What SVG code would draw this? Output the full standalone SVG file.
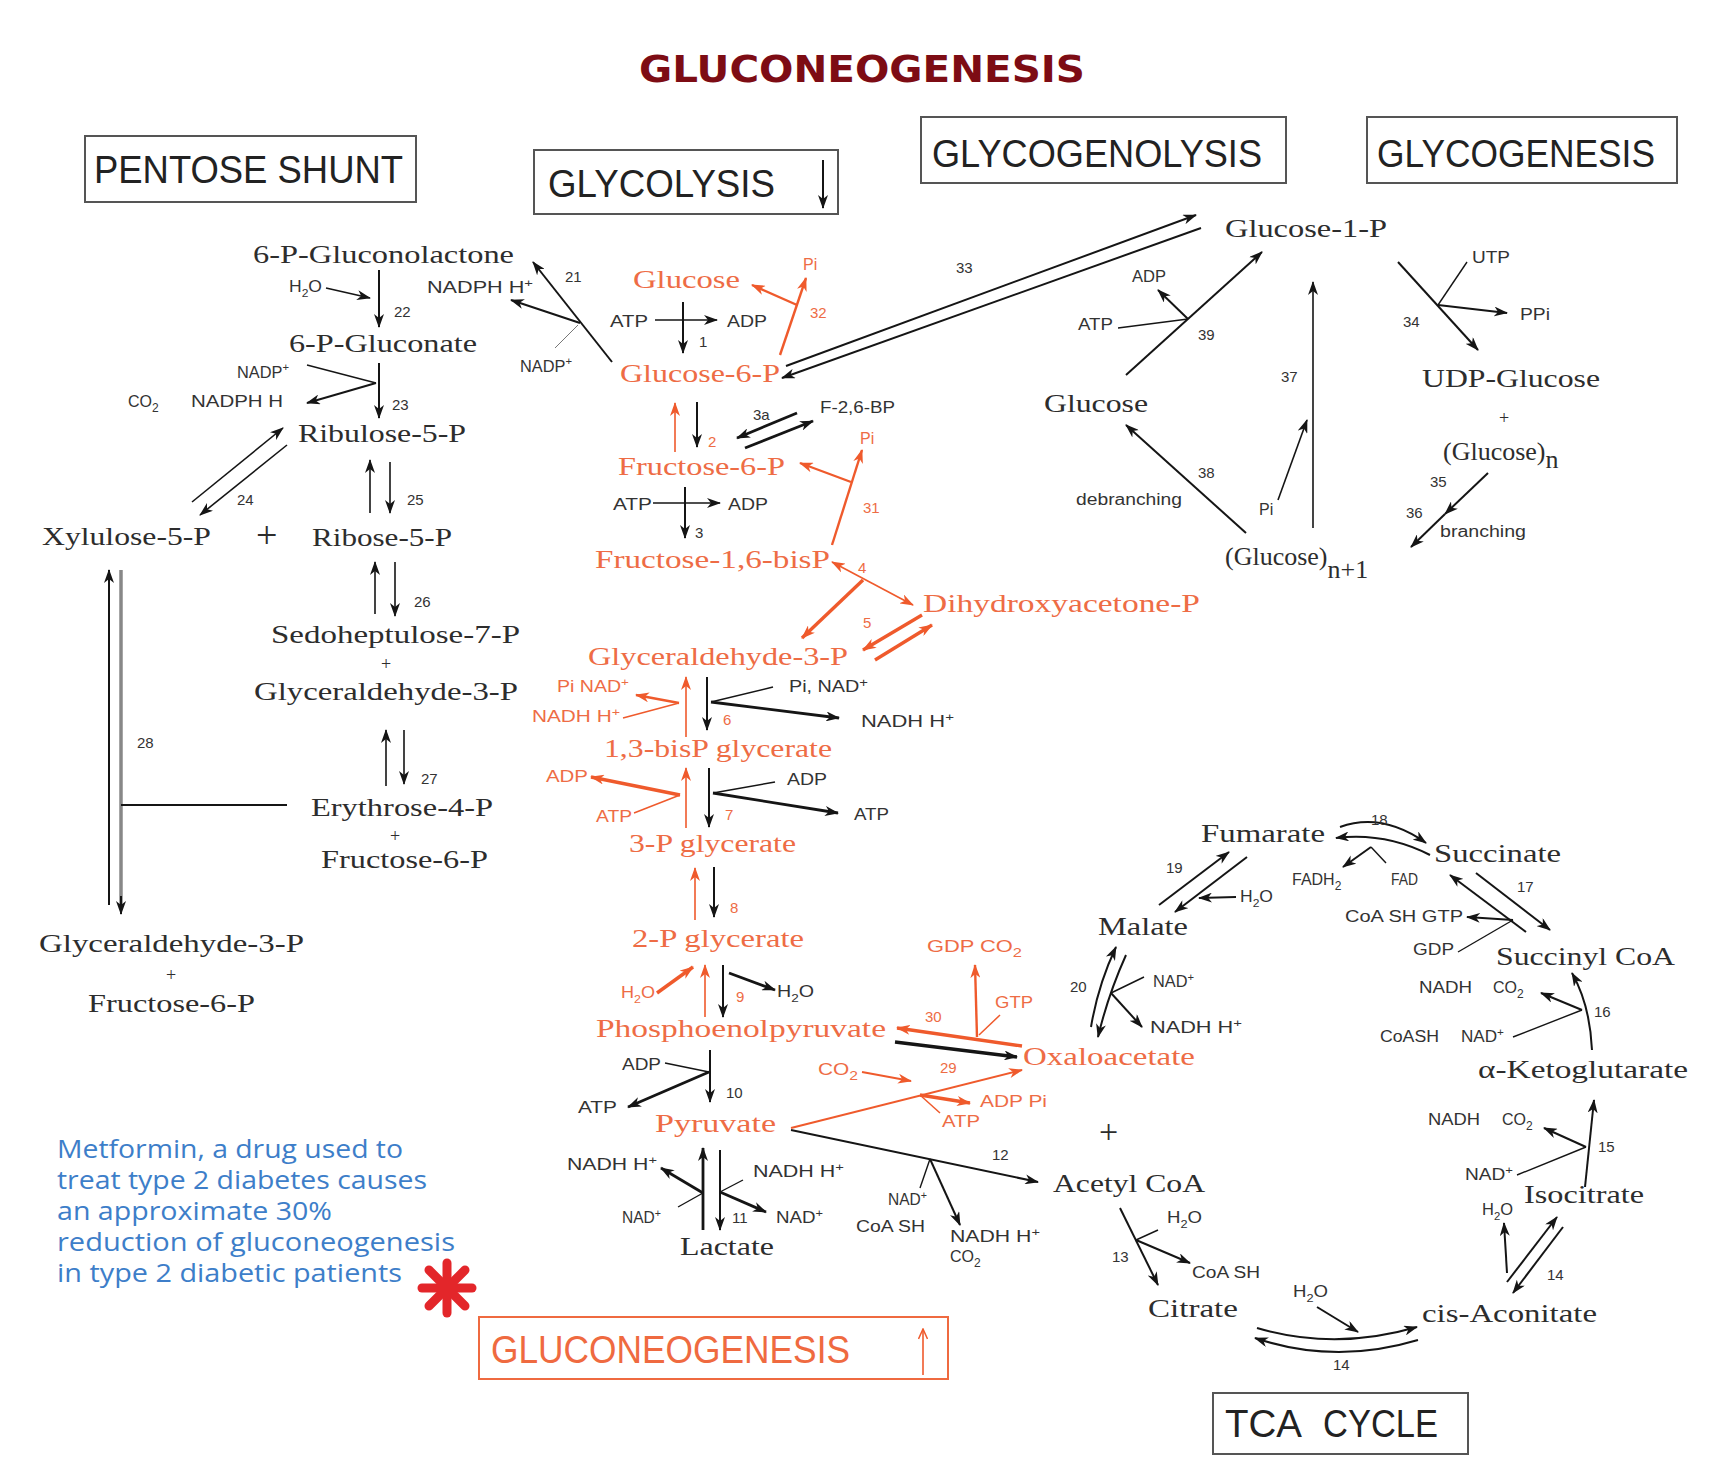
<svg xmlns="http://www.w3.org/2000/svg" width="1735" height="1471" viewBox="0 0 1735 1471">
<style>
.m{font-family:"Liberation Serif","Times New Roman",serif;font-size:26px;fill:#2d2d2d}
.mo{font-family:"Liberation Serif","Times New Roman",serif;font-size:26px;fill:#ee6c45}
.s{font-family:"Liberation Sans",Arial,sans-serif;font-size:16px;fill:#333}
.so{font-family:"Liberation Sans",Arial,sans-serif;font-size:16px;fill:#ee6c45}
.n{font-family:"Liberation Sans",Arial,sans-serif;font-size:15px;fill:#333}
.no{font-family:"Liberation Sans",Arial,sans-serif;font-size:15px;fill:#ee6c45}
.bt{font-family:"Liberation Sans",Arial,sans-serif;font-size:38px;fill:#222}
.box{fill:#fff;stroke:#555;stroke-width:2}
.k{fill:none;stroke:#151515;stroke-width:2;marker-end:url(#ak)}
.kk{fill:none;stroke:#151515;stroke-width:2.8;marker-end:url(#ak)}
.kl{fill:none;stroke:#151515;stroke-width:1.4}
.o{fill:none;stroke:#ef5a2c;stroke-width:2.4;marker-end:url(#ao)}
.oo{fill:none;stroke:#ef5a2c;stroke-width:3.4;marker-end:url(#ao)}
.ol{fill:none;stroke:#ef5a2c;stroke-width:1.5}
.ot{fill:none;stroke:#ef5a2c;stroke-width:1.6;marker-end:url(#ao)}
.blue{font-family:"Open Sans","Liberation Sans",sans-serif;font-size:25px;fill:#3d7ec9}
.plus{font-family:"Liberation Serif","Times New Roman",serif;font-size:18px;fill:#2d2d2d}
</style>
<defs>
<marker id="ak" viewBox="0 0 14 10" markerWidth="14" markerHeight="10" refX="13" refY="5" orient="auto-start-reverse" markerUnits="userSpaceOnUse"><path d="M0,0 L14,5 L0,10 L4,5 z" fill="#151515"/></marker>
<marker id="ao" viewBox="0 0 14 10" markerWidth="14" markerHeight="10" refX="13" refY="5" orient="auto-start-reverse" markerUnits="userSpaceOnUse"><path d="M0,0 L14,5 L0,10 L4,5 z" fill="#ef5a2c"/></marker>
<marker id="aov" viewBox="0 0 12 10" markerWidth="12" markerHeight="10" refX="11" refY="5" orient="auto" markerUnits="userSpaceOnUse"><path d="M1,0.5 L11,5 L1,9.5" fill="none" stroke="#ef5a2c" stroke-width="1.5"/></marker>
</defs>
<rect width="1735" height="1471" fill="#fff"/>

<text x="639" y="82" textLength="446" lengthAdjust="spacingAndGlyphs" style="font-family:'DejaVu Sans',Verdana,sans-serif;font-size:37px;font-weight:bold;fill:#7d0c14">GLUCONEOGENESIS</text>

<g id="box-pentose"><rect class="box" x="85" y="136" width="331" height="66"/><text class="bt" x="94" y="183" textLength="309" lengthAdjust="spacingAndGlyphs">PENTOSE SHUNT</text></g>
<g id="box-glycolysis"><rect class="box" x="534" y="150" width="304" height="64"/><text class="bt" x="548" y="197" textLength="227" lengthAdjust="spacingAndGlyphs">GLYCOLYSIS</text><path class="k" d="M823,160 L823,208"/></g>
<g id="box-glycogenolysis"><rect class="box" x="921" y="117" width="365" height="66"/><text class="bt" x="932" y="167" textLength="330" lengthAdjust="spacingAndGlyphs">GLYCOGENOLYSIS</text></g>
<g id="box-glycogenesis"><rect class="box" x="1367" y="117" width="310" height="66"/><text class="bt" x="1377" y="167" textLength="278" lengthAdjust="spacingAndGlyphs">GLYCOGENESIS</text></g>
<g id="box-tca"><rect class="box" x="1213" y="1393" width="255" height="61"/><text class="bt" x="1225" y="1437" textLength="77" lengthAdjust="spacingAndGlyphs">TCA</text><text class="bt" x="1323" y="1437" textLength="115" lengthAdjust="spacingAndGlyphs">CYCLE</text></g>
<g id="box-gluconeogenesis"><rect x="479" y="1317" width="469" height="62" fill="#fff" stroke="#ef6a40" stroke-width="2"/><text class="bt" x="491" y="1363" textLength="359" lengthAdjust="spacingAndGlyphs" style="fill:#ef6a40">GLUCONEOGENESIS</text><path d="M923,1375 L923,1329" fill="none" stroke="#ef5a2c" stroke-width="1.6" marker-end="url(#aov)"/></g>

<g id="note-metformin">
<text class="blue" x="57" y="1158" textLength="346" lengthAdjust="spacingAndGlyphs">Metformin, a drug used to</text>
<text class="blue" x="57" y="1189" textLength="370" lengthAdjust="spacingAndGlyphs">treat type 2 diabetes causes</text>
<text class="blue" x="57" y="1220" textLength="275" lengthAdjust="spacingAndGlyphs">an approximate 30%</text>
<text class="blue" x="57" y="1251" textLength="398" lengthAdjust="spacingAndGlyphs">reduction of gluconeogenesis</text>
<text class="blue" x="57" y="1282" textLength="345" lengthAdjust="spacingAndGlyphs">in type 2 diabetic patients</text>
<g stroke="#e3262a" stroke-width="9" stroke-linecap="round"><line x1="422" y1="1288" x2="472" y2="1288"/><line x1="447" y1="1263" x2="447" y2="1313"/><line x1="429" y1="1270" x2="465" y2="1306"/><line x1="465" y1="1270" x2="429" y2="1306"/></g>
</g>

<!-- pentose metabolites -->
<g id="n-6pgl"><text class="m" x="253" y="263" textLength="261" lengthAdjust="spacingAndGlyphs">6-P-Gluconolactone</text></g>
<g id="n-6pg"><text class="m" x="289" y="352" textLength="188" lengthAdjust="spacingAndGlyphs">6-P-Gluconate</text></g>
<g id="n-ru5p"><text class="m" x="298" y="442" textLength="168" lengthAdjust="spacingAndGlyphs">Ribulose-5-P</text></g>
<g id="n-xu5p"><text class="m" x="42" y="545" textLength="169" lengthAdjust="spacingAndGlyphs">Xylulose-5-P</text><text class="m" x="256" y="548" style="font-size:38px">+</text></g>
<g id="n-r5p"><text class="m" x="312" y="546" textLength="140" lengthAdjust="spacingAndGlyphs">Ribose-5-P</text></g>
<g id="n-s7p"><text class="m" x="271" y="643" textLength="249" lengthAdjust="spacingAndGlyphs">Sedoheptulose-7-P</text><text class="plus" x="381" y="670">+</text><text class="m" x="254" y="700" textLength="264" lengthAdjust="spacingAndGlyphs">Glyceraldehyde-3-P</text></g>
<g id="n-e4p"><text class="m" x="311" y="816" textLength="182" lengthAdjust="spacingAndGlyphs">Erythrose-4-P</text><text class="plus" x="390" y="842">+</text><text class="m" x="321" y="868" textLength="167" lengthAdjust="spacingAndGlyphs">Fructose-6-P</text></g>
<g id="n-g3p-f6p"><text class="m" x="39" y="952" textLength="265" lengthAdjust="spacingAndGlyphs">Glyceraldehyde-3-P</text><text class="plus" x="166" y="981">+</text><text class="m" x="88" y="1012" textLength="167" lengthAdjust="spacingAndGlyphs">Fructose-6-P</text></g>

<!-- glycolysis / gluconeogenesis metabolites -->
<g id="n-glucose"><text class="mo" x="633" y="288" textLength="107" lengthAdjust="spacingAndGlyphs">Glucose</text></g>
<g id="n-g6p"><text class="mo" x="620" y="382" textLength="160" lengthAdjust="spacingAndGlyphs">Glucose-6-P</text></g>
<g id="n-f6p"><text class="mo" x="618" y="475" textLength="167" lengthAdjust="spacingAndGlyphs">Fructose-6-P</text></g>
<g id="n-f16bp"><text class="mo" x="595" y="568" textLength="235" lengthAdjust="spacingAndGlyphs">Fructose-1,6-bisP</text></g>
<g id="n-dhap"><text class="mo" x="923" y="612" textLength="277" lengthAdjust="spacingAndGlyphs">Dihydroxyacetone-P</text></g>
<g id="n-gap"><text class="mo" x="588" y="665" textLength="260" lengthAdjust="spacingAndGlyphs">Glyceraldehyde-3-P</text></g>
<g id="n-13bpg"><text class="mo" x="604" y="757" textLength="228" lengthAdjust="spacingAndGlyphs">1,3-bisP glycerate</text></g>
<g id="n-3pg"><text class="mo" x="629" y="852" textLength="167" lengthAdjust="spacingAndGlyphs">3-P glycerate</text></g>
<g id="n-2pg"><text class="mo" x="632" y="947" textLength="172" lengthAdjust="spacingAndGlyphs">2-P glycerate</text></g>
<g id="n-pep"><text class="mo" x="596" y="1037" textLength="290" lengthAdjust="spacingAndGlyphs">Phosphoenolpyruvate</text></g>
<g id="n-oaa"><text class="mo" x="1023" y="1065" textLength="172" lengthAdjust="spacingAndGlyphs">Oxaloacetate</text></g>
<g id="n-pyr"><text class="mo" x="655" y="1132" textLength="121" lengthAdjust="spacingAndGlyphs">Pyruvate</text></g>
<g id="n-lactate"><text class="m" x="680" y="1255" textLength="94" lengthAdjust="spacingAndGlyphs">Lactate</text></g>

<!-- TCA metabolites -->
<g id="n-plus-tca"><text class="m" x="1099" y="1143" style="font-size:34px">+</text></g>
<g id="n-acetylcoa"><text class="m" x="1053" y="1192" textLength="152" lengthAdjust="spacingAndGlyphs">Acetyl CoA</text></g>
<g id="n-citrate"><text class="m" x="1148" y="1317" textLength="90" lengthAdjust="spacingAndGlyphs">Citrate</text></g>
<g id="n-cisaco"><text class="m" x="1422" y="1322" textLength="175" lengthAdjust="spacingAndGlyphs">cis-Aconitate</text></g>
<g id="n-isocitrate"><text class="m" x="1524" y="1203" textLength="120" lengthAdjust="spacingAndGlyphs">Isocitrate</text></g>
<g id="n-akg"><text class="m" x="1478" y="1078" textLength="210" lengthAdjust="spacingAndGlyphs">α-Ketoglutarate</text></g>
<g id="n-succoa"><text class="m" x="1496" y="965" textLength="179" lengthAdjust="spacingAndGlyphs">Succinyl CoA</text></g>
<g id="n-succinate"><text class="m" x="1434" y="862" textLength="127" lengthAdjust="spacingAndGlyphs">Succinate</text></g>
<g id="n-fumarate"><text class="m" x="1201" y="842" textLength="124" lengthAdjust="spacingAndGlyphs">Fumarate</text></g>
<g id="n-malate"><text class="m" x="1098" y="935" textLength="90" lengthAdjust="spacingAndGlyphs">Malate</text></g>

<!-- glycogen metabolites -->
<g id="n-g1p"><text class="m" x="1225" y="237" textLength="162" lengthAdjust="spacingAndGlyphs">Glucose-1-P</text></g>
<g id="n-glucose2"><text class="m" x="1044" y="412" textLength="104" lengthAdjust="spacingAndGlyphs">Glucose</text></g>
<g id="n-udpg"><text class="m" x="1422" y="387" textLength="178" lengthAdjust="spacingAndGlyphs">UDP-Glucose</text><text class="plus" x="1499" y="424">+</text><text class="m" x="1443" y="460">(Glucose)<tspan dy="8">n</tspan></text></g>
<g id="n-glycogen"><text class="m" x="1225" y="565">(Glucose)<tspan dy="13">n+1</tspan></text></g>

<g id="connectors">
<!-- pentose -->
<path class="k" d="M379,270 L379,327"/>
<path class="k" d="M326,288 L370,298" style="stroke-width:1.6"/>
<path class="k" d="M379,363 L379,418"/>
<path class="kl" d="M307,365 L376,383"/>
<path class="k" d="M376,383 L307,403"/>
<path class="k" d="M192,502 L283,428" style="stroke-width:1.6"/>
<path class="k" d="M287,445 L200,515" style="stroke-width:1.6"/>
<path class="k" d="M370,513 L370,460" style="stroke-width:1.6"/>
<path class="k" d="M390,462 L390,513" style="stroke-width:1.6"/>
<path class="k" d="M375,614 L375,562" style="stroke-width:1.6"/>
<path class="k" d="M395,562 L395,616" style="stroke-width:1.6"/>
<path class="k" d="M386,786 L386,730" style="stroke-width:1.6"/>
<path class="k" d="M404,730 L404,784" style="stroke-width:1.6"/>
<path class="k" d="M109,905 L109,570"/>
<path d="M121,570 L121,906" fill="none" stroke="#888" stroke-width="3.5"/>
<path class="k" d="M121,896 L121,914"/>
<path class="kl" d="M121,805 L287,805" style="stroke-width:2"/>
<path class="k" d="M612,362 L533,262"/>
<path class="k" d="M580,323 L511,300"/>
<path class="kl" d="M555,348 L578,325" style="stroke:#777;stroke-width:1"/>
<!-- glycolysis -->
<path class="k" d="M683,302 L683,353"/>
<path class="k" d="M655,320 L717,320" style="stroke-width:1.6"/>
<path class="o" d="M780,355 L806,278"/>
<path class="o" d="M797,305 L752,285"/>
<path class="k" d="M786,366 L1196,215"/>
<path class="k" d="M1201,228 L782,378"/>
<path class="k" d="M697,402 L697,447"/>
<path class="ot" d="M675,452 L675,403"/>
<path class="kk" d="M797,413 L737,438"/>
<path class="kk" d="M745,448 L813,421"/>
<path class="k" d="M685,487 L685,538"/>
<path class="k" d="M653,503 L720,503" style="stroke-width:1.6"/>
<path class="o" d="M832,545 L862,450"/>
<path class="o" d="M851,482 L800,463"/>
<path class="ot" d="M832,562 L913,605" marker-start="url(#ao)"/>
<path class="oo" d="M863,580 L802,638"/>
<path class="oo" d="M922,615 L863,650"/>
<path class="oo" d="M875,660 L932,625"/>
<path class="k" d="M707,677 L707,730"/>
<path class="kl" d="M773,687 L711,702"/>
<path class="kk" d="M711,702 L839,718"/>
<path class="ot" d="M686,737 L686,677"/>
<path class="o" d="M679,703 L636,695"/>
<path class="ol" d="M623,718 L679,703"/>
<path class="k" d="M709,768 L709,827"/>
<path class="kl" d="M775,782 L713,793"/>
<path class="kk" d="M713,793 L838,813"/>
<path class="ot" d="M686,828 L686,768"/>
<path class="oo" d="M680,795 L591,777"/>
<path class="ol" d="M634,813 L680,795"/>
<path class="k" d="M714,867 L714,917"/>
<path class="ot" d="M695,920 L695,868"/>
<path class="k" d="M723,965 L723,1017"/>
<path class="kk" d="M729,973 L775,990"/>
<path class="ot" d="M705,1017 L705,965"/>
<path class="oo" d="M657,993 L693,967"/>
<path class="oo" d="M1022,1046 L897,1028"/>
<path class="o" d="M977,1037 L975,965"/>
<path class="ol" d="M1000,1015 L979,1035"/>
<path class="kk" d="M895,1042 L1017,1057" style="stroke-width:3.4"/>
<path class="o" d="M791,1128 L1022,1070" style="stroke-width:2"/>
<path class="o" d="M862,1072 L911,1081" style="stroke-width:1.8"/>
<path class="oo" d="M920,1095 L970,1103"/>
<path class="ol" d="M940,1113 L920,1095"/>
<path class="k" d="M710,1050 L710,1102"/>
<path class="kl" d="M665,1063 L709,1072"/>
<path class="kk" d="M709,1072 L628,1107"/>
<path class="kk" d="M703,1230 L703,1148"/>
<path class="k" d="M720,1150 L720,1230"/>
<path class="kk" d="M703,1193 L661,1168"/>
<path class="kl" d="M678,1207 L703,1193"/>
<path class="kl" d="M743,1180 L720,1192"/>
<path class="kk" d="M720,1192 L766,1212"/>
<path class="k" d="M791,1130 L1038,1182"/>
<path class="kl" d="M920,1188 L930,1159"/>
<path class="k" d="M930,1159 L960,1225"/>
<!-- TCA -->
<path class="k" d="M1120,1208 L1158,1285"/>
<path class="kl" d="M1158,1230 L1136,1240"/>
<path class="k" d="M1136,1240 L1190,1263"/>
<path class="k" d="M1257,1328 Q1335,1351 1417,1327"/>
<path class="k" d="M1418,1340 Q1335,1365 1255,1338"/>
<path class="k" d="M1317,1307 L1358,1332"/>
<path class="k" d="M1507,1282 L1557,1217"/>
<path class="k" d="M1563,1227 L1513,1293"/>
<path class="k" d="M1507,1273 L1504,1223"/>
<path class="k" d="M1585,1187 L1594,1100"/>
<path class="kl" d="M1517,1175 L1586,1147"/>
<path class="k" d="M1586,1147 L1544,1128"/>
<path class="k" d="M1592,1050 Q1590,1005 1572,973"/>
<path class="kl" d="M1513,1037 L1582,1010"/>
<path class="k" d="M1582,1010 L1541,993"/>
<path class="k" d="M1526,932 L1450,875"/>
<path class="k" d="M1476,873 L1550,930"/>
<path class="k" d="M1513,920 L1467,917"/>
<path class="kl" d="M1458,952 L1513,920"/>
<path class="k" d="M1340,827 Q1382,812 1426,843"/>
<path class="k" d="M1430,855 Q1385,832 1336,838"/>
<path class="kl" d="M1386,863 L1371,847"/>
<path class="k" d="M1371,847 L1343,867"/>
<path class="k" d="M1159,905 L1229,852"/>
<path class="k" d="M1247,857 L1175,912"/>
<path class="k" d="M1236,897 L1199,898"/>
<path class="k" d="M1091,1027 Q1098,985 1116,947"/>
<path class="k" d="M1126,955 Q1108,995 1098,1037"/>
<path class="kl" d="M1144,977 L1111,993"/>
<path class="k" d="M1111,993 L1142,1027"/>
<!-- glycogen -->
<path class="k" d="M1126,375 L1262,252"/>
<path class="kl" d="M1118,328 L1188,319"/>
<path class="k" d="M1188,319 L1158,290"/>
<path class="k" d="M1313,528 L1313,282" style="stroke-width:1.6"/>
<path class="k" d="M1278,500 L1307,420" style="stroke-width:1.6"/>
<path class="k" d="M1246,533 L1126,425"/>
<path class="k" d="M1398,262 L1478,350"/>
<path class="kl" d="M1467,262 L1438,305"/>
<path class="k" d="M1438,305 L1507,313"/>
<path class="k" d="M1488,473 L1445,514"/>
<path class="k" d="M1445,514 L1411,547"/>
</g>

<g id="labels">
<!-- pentose cofactors -->
<text class="s" x="289" y="292" textLength="33" lengthAdjust="spacingAndGlyphs">H<tspan dy="5" font-size="11">2</tspan><tspan dy="-5">O</tspan></text>
<text class="s" x="427" y="293" textLength="106" lengthAdjust="spacingAndGlyphs">NADPH  H<tspan dy="-6" font-size="11">+</tspan></text>
<text class="s" x="237" y="378" textLength="52" lengthAdjust="spacingAndGlyphs">NADP<tspan dy="-7" font-size="11">+</tspan></text>
<text class="s" x="128" y="407">CO<tspan dy="5" font-size="12">2</tspan></text>
<text class="s" x="191" y="407" textLength="92" lengthAdjust="spacingAndGlyphs">NADPH  H</text>
<text class="s" x="520" y="372" textLength="52" lengthAdjust="spacingAndGlyphs">NADP<tspan dy="-7" font-size="11">+</tspan></text>
<text class="n" x="394" y="317">22</text>
<text class="n" x="392" y="410">23</text>
<text class="n" x="237" y="505">24</text>
<text class="n" x="407" y="505">25</text>
<text class="n" x="414" y="607">26</text>
<text class="n" x="421" y="784">27</text>
<text class="n" x="137" y="748">28</text>
<text class="n" x="565" y="282">21</text>
<!-- glycolysis cofactors -->
<text class="s" x="610" y="327" textLength="38" lengthAdjust="spacingAndGlyphs">ATP</text>
<text class="s" x="727" y="327" textLength="40" lengthAdjust="spacingAndGlyphs">ADP</text>
<text class="n" x="699" y="347">1</text>
<text class="so" x="803" y="270">Pi</text>
<text class="no" x="810" y="318">32</text>
<text class="n" x="956" y="273">33</text>
<text class="no" x="708" y="447">2</text>
<text class="n" x="753" y="420">3a</text>
<text class="s" x="820" y="413" textLength="75" lengthAdjust="spacingAndGlyphs">F-2,6-BP</text>
<text class="s" x="613" y="510" textLength="39" lengthAdjust="spacingAndGlyphs">ATP</text>
<text class="s" x="728" y="510" textLength="40" lengthAdjust="spacingAndGlyphs">ADP</text>
<text class="n" x="695" y="538">3</text>
<text class="so" x="860" y="444">Pi</text>
<text class="no" x="863" y="513">31</text>
<text class="no" x="858" y="573">4</text>
<text class="no" x="863" y="628">5</text>
<text class="s" x="789" y="692" textLength="79" lengthAdjust="spacingAndGlyphs">Pi, NAD<tspan dy="-5" font-size="12">+</tspan></text>
<text class="s" x="861" y="727" textLength="93" lengthAdjust="spacingAndGlyphs">NADH   H<tspan dy="-6" font-size="11">+</tspan></text>
<text class="so" x="557" y="692" textLength="72" lengthAdjust="spacingAndGlyphs">Pi NAD<tspan dy="-6" font-size="11">+</tspan></text>
<text class="so" x="532" y="722" textLength="88" lengthAdjust="spacingAndGlyphs">NADH  H<tspan dy="-6" font-size="11">+</tspan></text>
<text class="no" x="723" y="725">6</text>
<text class="s" x="787" y="785" textLength="40" lengthAdjust="spacingAndGlyphs">ADP</text>
<text class="s" x="854" y="820" textLength="35" lengthAdjust="spacingAndGlyphs">ATP</text>
<text class="so" x="546" y="782" textLength="42" lengthAdjust="spacingAndGlyphs">ADP</text>
<text class="so" x="596" y="822" textLength="36" lengthAdjust="spacingAndGlyphs">ATP</text>
<text class="no" x="725" y="820">7</text>
<text class="no" x="730" y="913">8</text>
<text class="s" x="777" y="997" textLength="37" lengthAdjust="spacingAndGlyphs">H<tspan dy="5" font-size="11">2</tspan><tspan dy="-5">O</tspan></text>
<text class="so" x="621" y="998" textLength="34" lengthAdjust="spacingAndGlyphs">H<tspan dy="5" font-size="11">2</tspan><tspan dy="-5">O</tspan></text>
<text class="no" x="736" y="1002">9</text>
<text class="so" x="927" y="952" textLength="95" lengthAdjust="spacingAndGlyphs">GDP  CO<tspan dy="5" font-size="12">2</tspan></text>
<text class="so" x="995" y="1008" textLength="38" lengthAdjust="spacingAndGlyphs">GTP</text>
<text class="no" x="925" y="1022">30</text>
<text class="so" x="818" y="1075" textLength="40" lengthAdjust="spacingAndGlyphs">CO<tspan dy="5" font-size="12">2</tspan></text>
<text class="no" x="940" y="1073">29</text>
<text class="so" x="980" y="1107" textLength="67" lengthAdjust="spacingAndGlyphs">ADP  Pi</text>
<text class="so" x="942" y="1127" textLength="38" lengthAdjust="spacingAndGlyphs">ATP</text>
<text class="s" x="622" y="1070" textLength="39" lengthAdjust="spacingAndGlyphs">ADP</text>
<text class="s" x="578" y="1113" textLength="39" lengthAdjust="spacingAndGlyphs">ATP</text>
<text class="n" x="726" y="1098">10</text>
<text class="s" x="567" y="1170" textLength="90" lengthAdjust="spacingAndGlyphs">NADH  H<tspan dy="-6" font-size="11">+</tspan></text>
<text class="s" x="622" y="1223" textLength="39" lengthAdjust="spacingAndGlyphs">NAD<tspan dy="-6" font-size="11">+</tspan></text>
<text class="s" x="753" y="1177" textLength="91" lengthAdjust="spacingAndGlyphs">NADH  H<tspan dy="-6" font-size="11">+</tspan></text>
<text class="s" x="776" y="1223" textLength="47" lengthAdjust="spacingAndGlyphs">NAD<tspan dy="-6" font-size="11">+</tspan></text>
<text class="n" x="732" y="1223">11</text>
<text class="s" x="888" y="1205" textLength="39" lengthAdjust="spacingAndGlyphs">NAD<tspan dy="-6" font-size="11">+</tspan></text>
<text class="s" x="856" y="1232" textLength="69" lengthAdjust="spacingAndGlyphs">CoA SH</text>
<text class="s" x="950" y="1242" textLength="90" lengthAdjust="spacingAndGlyphs">NADH  H<tspan dy="-6" font-size="11">+</tspan></text>
<text class="s" x="950" y="1262">CO<tspan dy="5" font-size="12">2</tspan></text>
<text class="n" x="992" y="1160">12</text>
<!-- TCA cofactors -->
<text class="s" x="1167" y="1223" textLength="35" lengthAdjust="spacingAndGlyphs">H<tspan dy="5" font-size="11">2</tspan><tspan dy="-5">O</tspan></text>
<text class="s" x="1192" y="1278" textLength="68" lengthAdjust="spacingAndGlyphs">CoA SH</text>
<text class="n" x="1112" y="1262">13</text>
<text class="s" x="1293" y="1297" textLength="35" lengthAdjust="spacingAndGlyphs">H<tspan dy="5" font-size="11">2</tspan><tspan dy="-5">O</tspan></text>
<text class="n" x="1333" y="1370">14</text>
<text class="s" x="1482" y="1215" textLength="31" lengthAdjust="spacingAndGlyphs">H<tspan dy="5" font-size="11">2</tspan><tspan dy="-5">O</tspan></text>
<text class="n" x="1547" y="1280">14</text>
<text class="s" x="1428" y="1125" textLength="52" lengthAdjust="spacingAndGlyphs">NADH</text>
<text class="s" x="1502" y="1125">CO<tspan dy="5" font-size="12">2</tspan></text>
<text class="s" x="1465" y="1180" textLength="48" lengthAdjust="spacingAndGlyphs">NAD<tspan dy="-6" font-size="11">+</tspan></text>
<text class="n" x="1598" y="1152">15</text>
<text class="s" x="1419" y="993" textLength="53" lengthAdjust="spacingAndGlyphs">NADH</text>
<text class="s" x="1493" y="993">CO<tspan dy="5" font-size="12">2</tspan></text>
<text class="s" x="1380" y="1042" textLength="59" lengthAdjust="spacingAndGlyphs">CoASH</text>
<text class="s" x="1461" y="1042" textLength="43" lengthAdjust="spacingAndGlyphs">NAD<tspan dy="-6" font-size="11">+</tspan></text>
<text class="n" x="1594" y="1017">16</text>
<text class="s" x="1345" y="922" textLength="118" lengthAdjust="spacingAndGlyphs">CoA SH GTP</text>
<text class="s" x="1413" y="955" textLength="41" lengthAdjust="spacingAndGlyphs">GDP</text>
<text class="n" x="1517" y="892">17</text>
<text class="s" x="1292" y="885">FADH<tspan dy="5" font-size="12">2</tspan></text>
<text class="s" x="1391" y="885" textLength="27" lengthAdjust="spacingAndGlyphs">FAD</text>
<text class="n" x="1371" y="825">18</text>
<text class="s" x="1240" y="902" textLength="33" lengthAdjust="spacingAndGlyphs">H<tspan dy="5" font-size="11">2</tspan><tspan dy="-5">O</tspan></text>
<text class="n" x="1166" y="873">19</text>
<text class="s" x="1153" y="987" textLength="41" lengthAdjust="spacingAndGlyphs">NAD<tspan dy="-6" font-size="11">+</tspan></text>
<text class="s" x="1150" y="1033" textLength="92" lengthAdjust="spacingAndGlyphs">NADH   H<tspan dy="-6" font-size="11">+</tspan></text>
<text class="n" x="1070" y="992">20</text>
<!-- glycogen cofactors -->
<text class="s" x="1078" y="330" textLength="35" lengthAdjust="spacingAndGlyphs">ATP</text>
<text class="s" x="1132" y="282" textLength="34" lengthAdjust="spacingAndGlyphs">ADP</text>
<text class="n" x="1198" y="340">39</text>
<text class="s" x="1259" y="515">Pi</text>
<text class="n" x="1281" y="382">37</text>
<text class="s" x="1076" y="505" textLength="106" lengthAdjust="spacingAndGlyphs">debranching</text>
<text class="n" x="1198" y="478">38</text>
<text class="s" x="1472" y="263" textLength="38" lengthAdjust="spacingAndGlyphs">UTP</text>
<text class="s" x="1520" y="320" textLength="30" lengthAdjust="spacingAndGlyphs">PPi</text>
<text class="n" x="1403" y="327">34</text>
<text class="n" x="1430" y="487">35</text>
<text class="n" x="1406" y="518">36</text>
<text class="s" x="1440" y="537" textLength="86" lengthAdjust="spacingAndGlyphs">branching</text>
</g>
</svg>
